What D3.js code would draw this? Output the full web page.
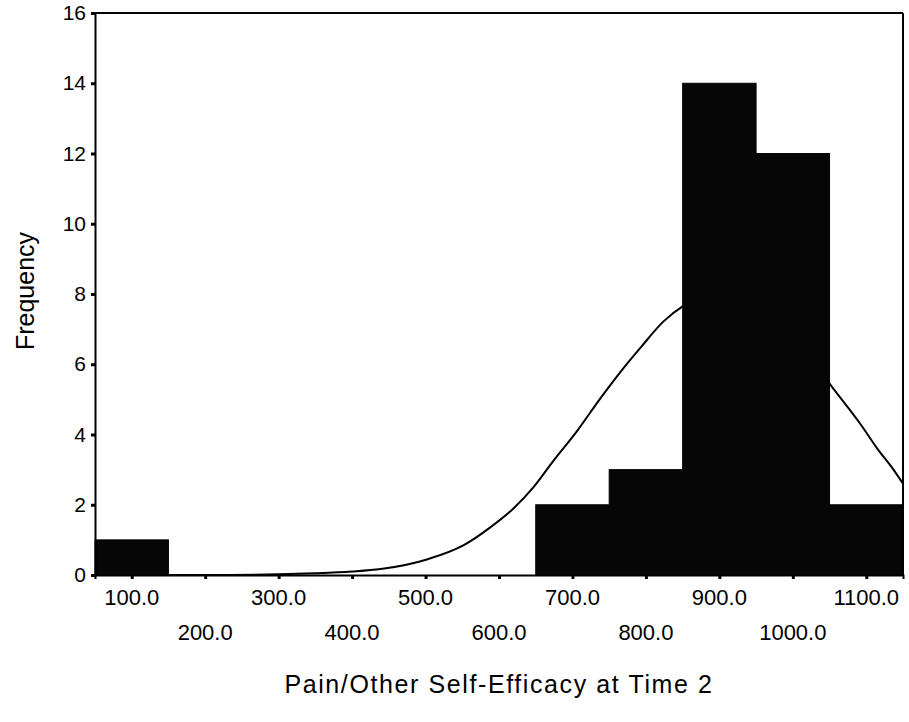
<!DOCTYPE html>
<html>
<head>
<meta charset="utf-8">
<script src="https://cdn.jsdelivr.net/npm/d3@7"></script>
<style>
  html, body { margin: 0; padding: 0; background: #fff; }
  svg { display: block; }
  text { font-family: "Liberation Sans", Arial, sans-serif; fill: #000; }
</style>
</head>
<body>
<svg id="chart" width="909" height="722"></svg>
<script>
// ---- data ----
const binMidpoints = [100, 200, 300, 400, 500, 600, 700, 800, 900, 1000, 1100];
const frequencies  = [1, 0, 0, 0, 0, 0, 2, 3, 14, 12, 2];
const binWidth = 100;
const xTickLabels = ["100.0","200.0","300.0","400.0","500.0","600.0","700.0","800.0","900.0","1000.0","1100.0"];
const yTicks = [0, 2, 4, 6, 8, 10, 12, 14, 16];
// normal curve, points
const curveX = [50, 200, 300, 350, 400, 439, 503, 552, 589, 620, 647, 674, 707, 738, 766, 793, 824, 850, 900, 950, 1000, 1050, 1092, 1115, 1137, 1150];
const curveY = [0, 0, 0.02, 0.05, 0.1, 0.17, 0.45, 0.85, 1.37, 1.9, 2.5, 3.25, 4.12, 5.03, 5.8, 6.48, 7.22, 7.65, 8.0, 7.75, 6.9, 5.45, 4.3, 3.6, 3.0, 2.6];
const xTitle = "Pain/Other Self-Efficacy at Time 2";
const yTitle = "Frequency";

// ---- layout ----
const svg = d3.select("#chart");
const x = d3.scaleLinear().domain([50, 1150]).range([95, 903]);
const y = d3.scaleLinear().domain([0, 16]).range([575, 13]);

// curve (behind bars)
const line = d3.line()
  .x((d, i) => x(curveX[i]))
  .y((d, i) => y(curveY[i]))
  .curve(d3.curveMonotoneX);
svg.append("path")
  .datum(curveX)
  .attr("d", line)
  .attr("fill", "none")
  .attr("stroke", "#000")
  .attr("stroke-width", 2);

// bars
svg.append("g").selectAll("rect")
  .data(binMidpoints.map((m, i) => ({ m, f: frequencies[i] })).filter(d => d.f > 0))
  .join("rect")
  .attr("x", d => x(d.m - binWidth / 2))
  .attr("width", d => x(d.m + binWidth / 2) - x(d.m - binWidth / 2))
  .attr("y", d => y(d.f))
  .attr("height", d => y(0) - y(d.f))
  .attr("fill", "#060606")
  .attr("stroke", "#060606")
  .attr("stroke-width", 1);

// frame: top and right border
svg.append("line").attr("x1", x(50)).attr("x2", x(1150)).attr("y1", y(16)).attr("y2", y(16))
  .attr("stroke", "#000").attr("stroke-width", 2);
svg.append("line").attr("x1", x(1150)).attr("x2", x(1150)).attr("y1", y(16)).attr("y2", y(0))
  .attr("stroke", "#000").attr("stroke-width", 2);

// y axis
const yAxis = d3.axisLeft(y).tickValues(yTicks).tickSize(4).tickPadding(5).tickFormat(d3.format("d"));
const gy = svg.append("g").attr("transform", `translate(${x(50)},0)`).call(yAxis);
gy.select(".domain").attr("stroke-width", 2);
gy.selectAll(".tick line").attr("stroke-width", 3);
gy.selectAll(".tick text").attr("font-size", 21).attr("font-family", '"Liberation Sans", Arial, sans-serif');

// x axis
const xAxis = d3.axisBottom(x).tickValues(binMidpoints).tickSize(4).tickFormat("");
const gx = svg.append("g").attr("transform", `translate(0,${y(0)})`).call(xAxis);
gx.select(".domain").attr("stroke-width", 2);
gx.selectAll(".tick line").attr("stroke-width", 3);

// staggered x tick labels
svg.append("g").selectAll("text")
  .data(binMidpoints)
  .join("text")
  .attr("x", d => x(d))
  .attr("y", (d, i) => i % 2 === 0 ? 605 : 640)
  .attr("text-anchor", "middle")
  .attr("font-size", 22)
  .text((d, i) => xTickLabels[i]);

// axis titles
svg.append("text")
  .attr("x", 499).attr("y", 693)
  .attr("text-anchor", "middle")
  .attr("font-size", 25)
  .attr("letter-spacing", 1.6)
  .text(xTitle);

svg.append("text")
  .attr("transform", "translate(34,291) rotate(-90)")
  .attr("text-anchor", "middle")
  .attr("font-size", 25)
  .text(yTitle);
</script>
</body>
</html>
